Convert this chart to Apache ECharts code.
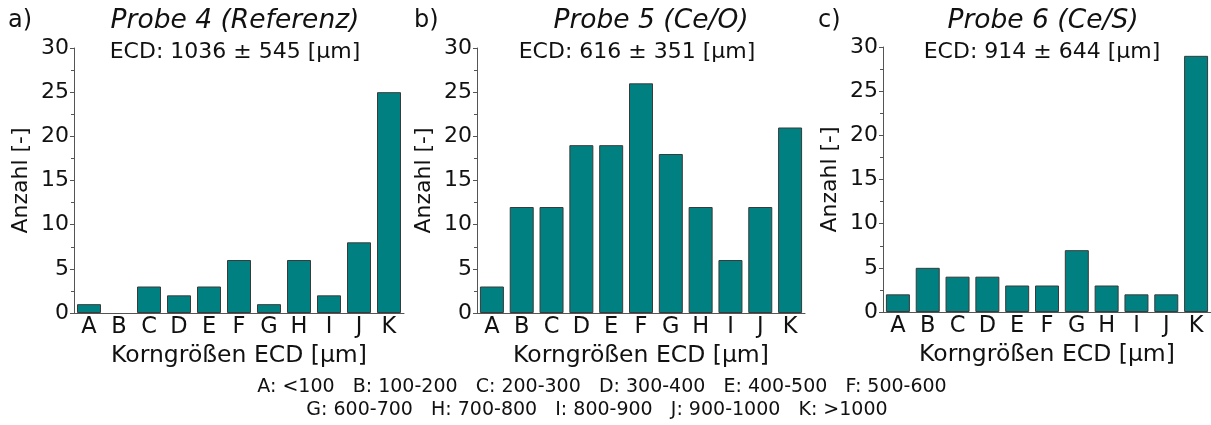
<!DOCTYPE html>
<html>
<head>
<meta charset="utf-8">
<script src="https://cdn.jsdelivr.net/npm/echarts@6/dist/echarts.min.js"></script>
<style>
  html, body { margin: 0; padding: 0; background: #fff; }
  #myChart { width: 1211px; height: 425px; }
</style>
</head>
<body>
<div id="myChart"></div>
<script>
// Korngrößenklassen
const categories = ['A', 'B', 'C', 'D', 'E', 'F', 'G', 'H', 'I', 'J', 'K']
const probe4 = [1, 0, 3, 2, 3, 6, 1, 6, 2, 8, 25]
const probe5 = [3, 12, 12, 19, 19, 26, 18, 12, 6, 12, 21]
const probe6 = [2, 5, 4, 4, 3, 3, 7, 3, 2, 2, 29]
const panelLetters = ['a)', 'b)', 'c)']
const panelTitles = ['Probe 4 (Referenz)', 'Probe 5 (Ce/O)', 'Probe 6 (Ce/S)']
const ecdTexts = ['ECD: 1036 ± 545 [µm]', 'ECD: 616 ± 351 [µm]', 'ECD: 914 ± 644 [µm]']
const footLines = [
  'A: <100   B: 100-200   C: 200-300   D: 300-400   E: 400-500   F: 500-600',
  'G: 600-700   H: 700-800   I: 800-900   J: 900-1000   K: >1000'
]

const FONT = 'DejaVu Sans'
const axisColor = '#555555'
const barColor = '#008080'

const grids = [
  { left: 74, top: 48, width: 330, height: 265 },
  { left: 477, top: 48, width: 328, height: 265 },
  { left: 883, top: 47, width: 328, height: 265 }
]
const letterX = [8, 414, 818]
const titleX = [235, 651, 1043]
const ecdX = [235, 637, 1042]

const myChart = echarts.init(document.getElementById('myChart'))

function txt(text, x, y, size, align, italic) {
  return {
    type: 'text',
    x: x,
    y: y,
    style: {
      text: text,
      fontSize: size,
      fontFamily: FONT,
      fontStyle: italic ? 'italic' : 'normal',
      fill: '#111',
      align: align,
      textAlign: align,
      verticalAlign: 'middle',
      textVerticalAlign: 'middle'
    }
  }
}

const graphic = []
for (let i = 0; i < 3; i++) {
  graphic.push(txt(panelLetters[i], letterX[i], 21, 24, 'left', false))
  graphic.push(txt(panelTitles[i], titleX[i], 21, 26.5, 'center', true))
  graphic.push(txt(ecdTexts[i], ecdX[i], 52, 22, 'center', false))
}
graphic.push(txt(footLines[0], 602, 387, 19, 'center', false))
graphic.push(txt(footLines[1], 597, 410, 19, 'center', false))

const xAxis = grids.map((g, i) => ({
  type: 'category',
  gridIndex: i,
  data: categories,
  name: 'Korngrößen ECD [µm]',
  nameLocation: 'middle',
  nameGap: 30,
  nameTextStyle: { fontFamily: FONT, fontSize: 23.5, color: '#111' },
  axisLine: { show: true, lineStyle: { color: axisColor, width: 1 } },
  axisTick: { show: false },
  axisLabel: { fontFamily: FONT, fontSize: 22.5, color: '#111', margin: 3, interval: 0 },
  splitLine: { show: false }
}))

const yAxis = grids.map((g, i) => ({
  type: 'value',
  gridIndex: i,
  min: 0,
  max: 30,
  interval: 5,
  name: 'Anzahl [-]',
  nameLocation: 'middle',
  nameGap: 42,
  nameRotate: 90,
  nameTextStyle: { fontFamily: FONT, fontSize: 22, color: '#111' },
  axisLine: { show: true, lineStyle: { color: axisColor, width: 1 } },
  axisTick: { show: true, inside: false, length: 4, lineStyle: { color: axisColor } },
  minorTick: { show: true, splitNumber: 2, length: 3, lineStyle: { color: axisColor } },
  axisLabel: { fontFamily: FONT, fontSize: 22, color: '#111', margin: 5 },
  splitLine: { show: false }
}))

const dataSets = [probe4, probe5, probe6]
const series = dataSets.map((d, i) => ({
  type: 'bar',
  xAxisIndex: i,
  yAxisIndex: i,
  // leere Klassen ohne Rand zeichnen
  data: d.map(v => (v === 0 ? { value: v, itemStyle: { borderWidth: 0 } } : v)),
  barWidth: 24,
  itemStyle: { color: barColor, borderColor: '#3a3a3a', borderWidth: 1 }
}))

const option = {
  animation: false,
  backgroundColor: '#ffffff',
  grid: grids.map(g => Object.assign({ containLabel: false, outerBoundsMode: 'none' }, g)),
  xAxis: xAxis,
  yAxis: yAxis,
  series: series,
  graphic: graphic
}
myChart.setOption(option)
window.addEventListener('resize', function() {
  myChart.resize()
})
</script>
</body>
</html>
